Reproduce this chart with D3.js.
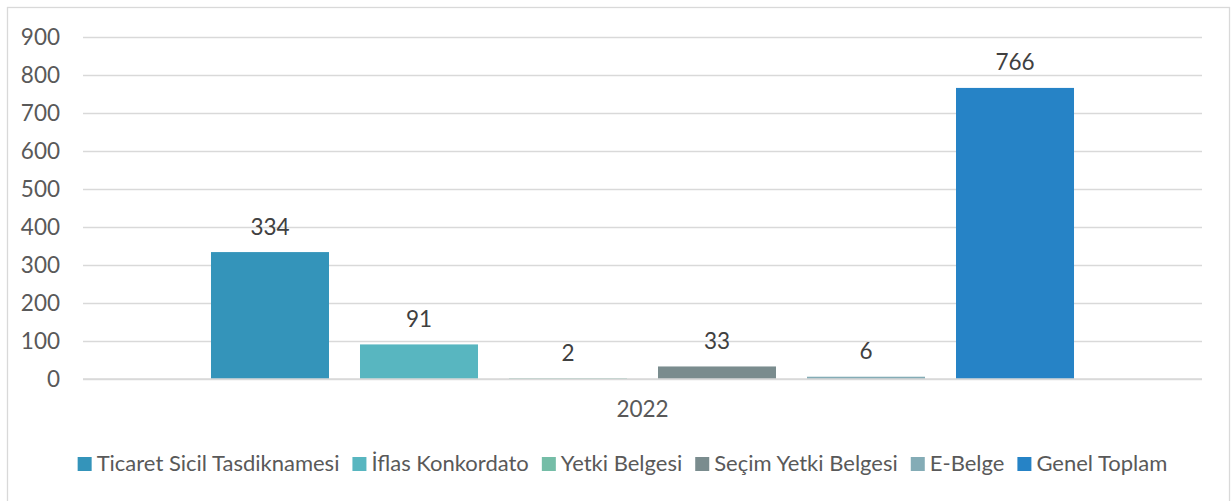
<!DOCTYPE html>
<html>
<head>
<meta charset="utf-8">
<script src="https://cdn.jsdelivr.net/npm/d3@7"></script>
<style>
  html, body { margin: 0; padding: 0; background: #fff; }
  svg { display: block; }
  text { font-family: Lato, "Open Sans", sans-serif; }
</style>
</head>
<body>
<svg id="chart" width="1231" height="501"></svg>
<script>
const categories = ["2022"];
const seriesNames = ["Ticaret Sicil Tasdiknamesi", "İflas Konkordato", "Yetki Belgesi", "Seçim Yetki Belgesi", "E-Belge", "Genel Toplam"];
const seriesValues = [334, 91, 2, 33, 6, 766];
const seriesColors = ["#3494BA", "#58B6C0", "#75BDA7", "#7A8C8E", "#84ACB6", "#2683C6"];
const yTicks = [0, 100, 200, 300, 400, 500, 600, 700, 800, 900];

const svg = d3.select("#chart");
const plot = { left: 83, right: 1202, top: 37, bottom: 379 };
const fontSize = 22.5;
const legendFont = 22;

// chart border
svg.append("rect")
  .attr("x", 7.5).attr("y", 7.5)
  .attr("width", 1222).attr("height", 500)
  .attr("fill", "#fff").attr("stroke", "#D9D9D9").attr("stroke-width", 1.3);

const y = d3.scaleLinear().domain([0, 900]).range([plot.bottom, plot.top]);
const x0 = d3.scaleBand().domain(categories).range([plot.left, plot.right]).padding(0);
const x1 = d3.scaleBand().domain(seriesNames)
  .range([0, x0.bandwidth()])
  .paddingInner(0.208).paddingOuter(0.859);

// gridlines
const yAxis = d3.axisLeft(y).tickValues(yTicks).tickSize(-(plot.right - plot.left)).tickPadding(23);
const gy = svg.append("g").attr("transform", `translate(${plot.left},0)`).call(yAxis);
gy.select(".domain").remove();
gy.selectAll(".tick line").attr("stroke", "#D9D9D9").attr("stroke-width", 1.3);
gy.selectAll(".tick text")
  .attr("fill", "#595959").style("font-size", fontSize + "px")
  .style("font-family", "Lato, 'Open Sans', sans-serif");

// bars
const g = svg.append("g");
const data = seriesNames.map((s, i) => ({ name: s, value: seriesValues[i], color: seriesColors[i], cat: categories[0] }));
g.selectAll("rect.bar").data(data).enter().append("rect")
  .attr("class", "bar")
  .attr("x", d => x0(d.cat) + x1(d.name))
  .attr("width", x1.bandwidth())
  .attr("y", d => y(d.value))
  .attr("height", d => y(0) - y(d.value))
  .attr("fill", d => d.color);

// zero line over bars
svg.append("line")
  .attr("x1", plot.left).attr("x2", plot.right)
  .attr("y1", y(0)).attr("y2", y(0))
  .attr("stroke", "#D9D9D9").attr("stroke-width", 1.3);

// data labels
g.selectAll("text.lbl").data(data).enter().append("text")
  .attr("class", "lbl")
  .attr("x", d => x0(d.cat) + x1(d.name) + x1.bandwidth() / 2)
  .attr("y", d => y(d.value) - 17.5)
  .attr("text-anchor", "middle")
  .attr("fill", "#404040")
  .style("font-size", fontSize + "px")
  .text(d => d.value);

// category label
const xAxis = d3.axisBottom(x0).tickSize(0).tickPadding(0);
const gx = svg.append("g").attr("transform", `translate(0,${plot.bottom})`).call(xAxis);
gx.select(".domain").remove();
gx.selectAll(".tick text")
  .attr("dy", null).attr("y", 38)
  .attr("fill", "#595959").style("font-size", fontSize + "px")
  .style("font-family", "Lato, 'Open Sans', sans-serif");

// legend
const legend = svg.append("g");
const items = legend.selectAll("g").data(data).enter().append("g");
items.append("rect").attr("width", 14).attr("height", 14).attr("y", 457).attr("fill", d => d.color);
items.append("text").attr("x", 19).attr("y", 471)
  .attr("fill", "#595959").style("font-size", legendFont + "px").text(d => d.name);
const widths = [];
items.each(function(d) {
  widths.push(19 + d3.select(this).select("text").node().getComputedTextLength());
});
const gap = 13;
const total = d3.sum(widths) + gap * (widths.length - 1);
let start = 622.5 - total / 2;
items.attr("transform", (d, i) => {
  const t = `translate(${start},0)`;
  start += widths[i] + gap;
  return t;
});
</script>
</body>
</html>
